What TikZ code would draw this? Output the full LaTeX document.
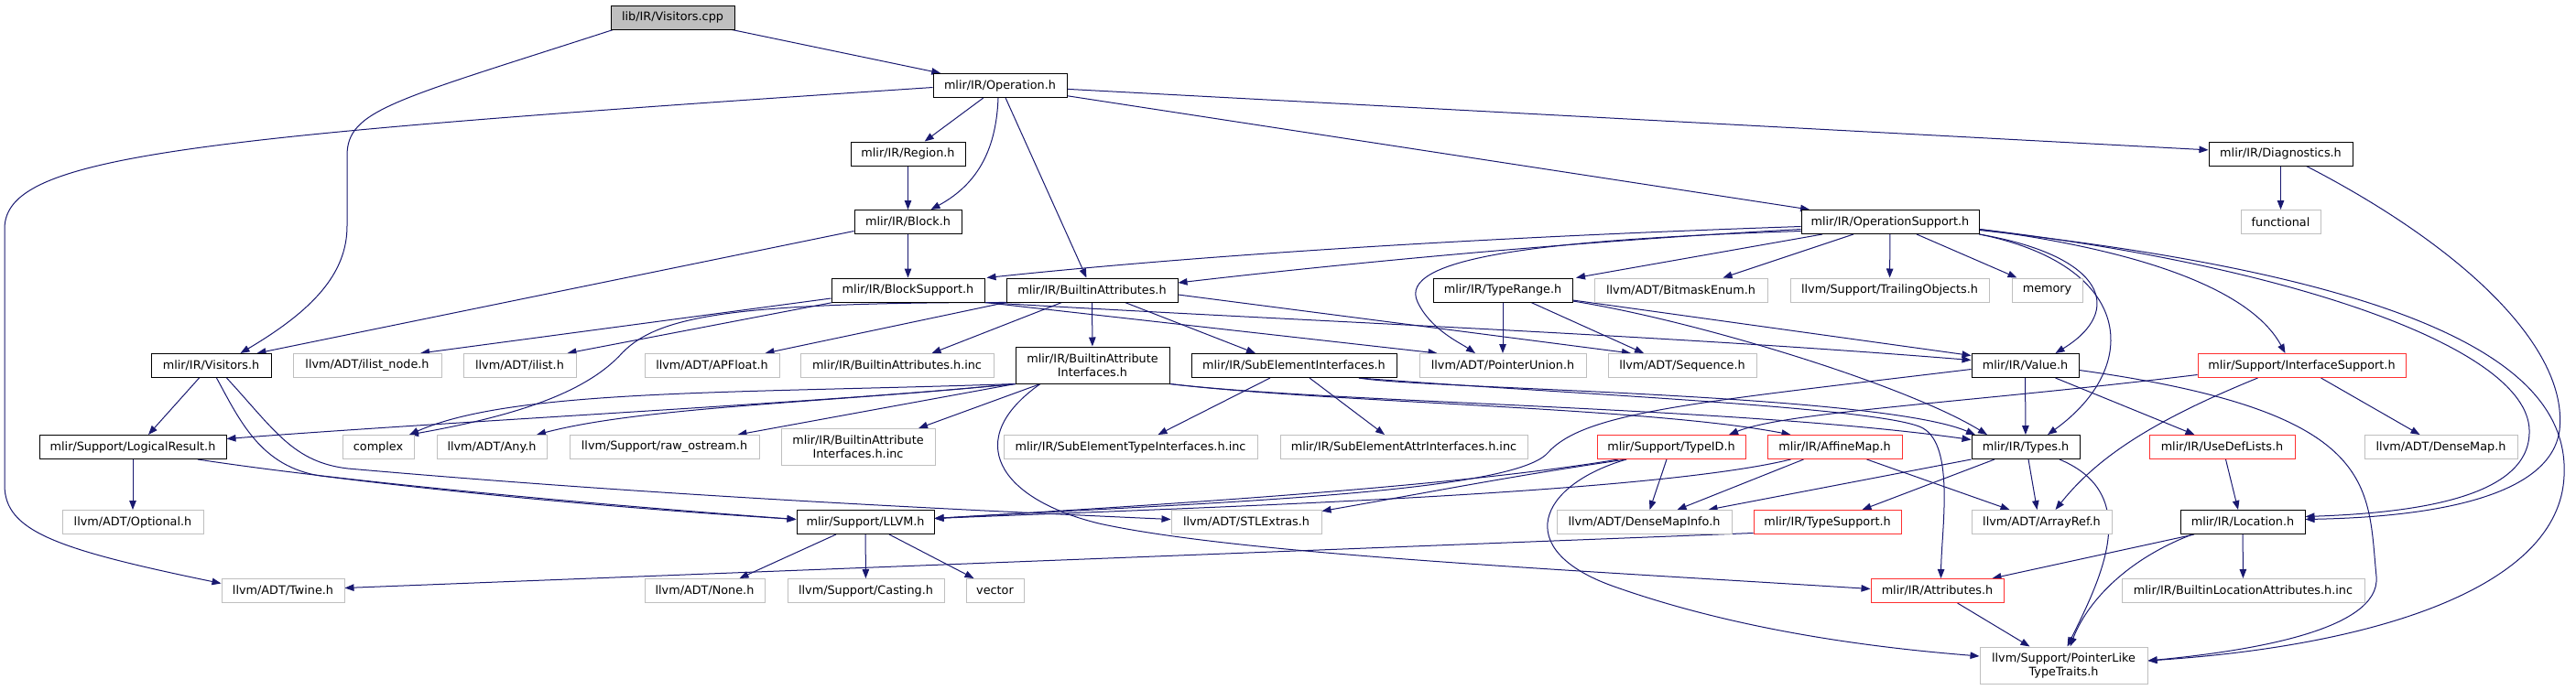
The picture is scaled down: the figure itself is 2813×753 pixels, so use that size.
\documentclass[tikz,border=0pt]{standalone}
\usepackage{fontspec}
\setmainfont{DejaVu Sans}
\usetikzlibrary{arrows.meta}
\pgfdeclarelayer{bg}
\pgfsetlayers{bg,main}
\definecolor{edgeblue}{HTML}{191970}
\definecolor{greybd}{HTML}{BFBFBF}
\definecolor{redbd}{HTML}{FF3030}
\definecolor{rootfill}{HTML}{BFBFBF}
\begin{document}
\begin{tikzpicture}[x=1pt,y=-1pt,
  nd/.style={rectangle, inner sep=0pt, line width=1pt, fill=white, align=center, font=\fontsize{12.8}{15}\selectfont, minimum height=26pt},
  doc/.style={nd, draw=black},
  ext/.style={nd, draw=greybd},
  trunc/.style={nd, draw=redbd},
  root/.style={nd, draw=black, fill=rootfill},
  edg/.style={draw=edgeblue, line width=1pt, -{Triangle[length=10pt,width=7.5pt]}}]
\useasboundingbox (0,0) rectangle (2813,753);
% row 0-4
\node[root, minimum width=135pt] (vcpp) at (734.5,19) {lib/IR/Visitors.cpp};
\node[doc, minimum width=146pt] (op) at (1092,93.5) {mlir/IR/Operation.h};
\node[doc, minimum width=125pt] (region) at (991.5,168) {mlir/IR/Region.h};
\node[doc, minimum width=157pt] (diag) at (2490.5,168) {mlir/IR/Diagnostics.h};
\node[doc, minimum width=117pt] (block) at (991.5,242.5) {mlir/IR/Block.h};
\node[doc, minimum width=194pt] (opsup) at (2064,242.5) {mlir/IR/OperationSupport.h};
\node[ext, minimum width=87pt] (functional) at (2490.5,242.5) {functional};
\node[doc, minimum width=167pt] (blocksup) at (991.5,317) {mlir/IR/BlockSupport.h};
\node[doc, minimum width=187pt] (battr) at (1192.5,317) {mlir/IR/BuiltinAttributes.h};
\node[doc, minimum width=152pt] (typerange) at (1641,317) {mlir/IR/TypeRange.h};
\node[ext, minimum width=189pt] (bitmask) at (1835.5,317) {llvm/ADT/BitmaskEnum.h};
\node[ext, minimum width=217pt] (trailing) at (2063.5,317) {llvm/Support/TrailingObjects.h};
\node[ext, minimum width=77pt] (memory) at (2235.5,317) {memory};
% row 5
\node[doc, minimum width=131pt] (visitorsh) at (230.5,399.5) {mlir/IR/Visitors.h};
\node[ext, minimum width=162pt] (ilistnode) at (401,399.5) {llvm/ADT/ilist\_node.h};
\node[ext, minimum width=123pt] (ilist) at (567.5,399.5) {llvm/ADT/ilist.h};
\node[ext, minimum width=147pt] (apfloat) at (777.5,399.5) {llvm/ADT/APFloat.h};
\node[ext, minimum width=211pt] (battrinc) at (979.5,399.5) {mlir/IR/BuiltinAttributes.h.inc};
\node[doc, minimum width=168pt, minimum height=40pt] (bai) at (1193,399) {mlir/IR/BuiltinAttribute\\Interfaces.h};
\node[doc, minimum width=224pt] (subel) at (1413,399.5) {mlir/IR/SubElementInterfaces.h};
\node[ext, minimum width=182pt] (punion) at (1641,399.5) {llvm/ADT/PointerUnion.h};
\node[ext, minimum width=162pt] (sequence) at (1837,399.5) {llvm/ADT/Sequence.h};
\node[doc, minimum width=117pt] (value) at (2211.5,399.5) {mlir/IR/Value.h};
\node[trunc, minimum width=227pt] (ifsup) at (2513.5,399.5) {mlir/Support/InterfaceSupport.h};
% row 6
\node[doc, minimum width=204pt] (logres) at (145,488.5) {mlir/Support/LogicalResult.h};
\node[ext, minimum width=78pt] (complex) at (413,488.5) {complex};
\node[ext, minimum width=120pt] (any) at (537,488.5) {llvm/ADT/Any.h};
\node[ext, minimum width=207pt] (rawos) at (725.5,488.5) {llvm/Support/raw\_ostream.h};
\node[ext, minimum width=168pt, minimum height=40pt] (baiinc) at (937,488.5) {mlir/IR/BuiltinAttribute\\Interfaces.h.inc};
\node[ext, minimum width=277pt] (setinc) at (1234.5,488.5) {mlir/IR/SubElementTypeInterfaces.h.inc};
\node[ext, minimum width=270pt] (seainc) at (1533,488.5) {mlir/IR/SubElementAttrInterfaces.h.inc};
\node[trunc, minimum width=162pt] (typeid) at (1825,488.5) {mlir/Support/TypeID.h};
\node[trunc, minimum width=147pt] (affine) at (2003.5,488.5) {mlir/IR/AffineMap.h};
\node[doc, minimum width=118pt] (types) at (2212,488.5) {mlir/IR/Types.h};
\node[trunc, minimum width=159pt] (usedef) at (2426.5,488.5) {mlir/IR/UseDefLists.h};
\node[ext, minimum width=167pt] (densemap) at (2665.5,488.5) {llvm/ADT/DenseMap.h};
% row 7
\node[ext, minimum width=154pt] (optional) at (145,570.5) {llvm/ADT/Optional.h};
\node[doc, minimum width=150pt] (llvmh) at (945,570.5) {mlir/Support/LLVM.h};
\node[ext, minimum width=164pt] (stlextras) at (1361,570.5) {llvm/ADT/STLExtras.h};
\node[ext, minimum width=191pt] (densemapinfo) at (1795.5,570.5) {llvm/ADT/DenseMapInfo.h};
\node[trunc, minimum width=161pt] (typesupport) at (1995.5,570.5) {mlir/IR/TypeSupport.h};
\node[ext, minimum width=153pt] (arrayref) at (2229.5,570.5) {llvm/ADT/ArrayRef.h};
\node[doc, minimum width=136pt] (location) at (2449,570.5) {mlir/IR/Location.h};
% row 8
\node[ext, minimum width=134pt] (twine) at (309,645.5) {llvm/ADT/Twine.h};
\node[ext, minimum width=131pt] (none) at (769.5,645.5) {llvm/ADT/None.h};
\node[ext, minimum width=171pt] (casting) at (945.5,645.5) {llvm/Support/Casting.h};
\node[ext, minimum width=63pt] (vector) at (1086.5,645.5) {vector};
\node[trunc, minimum width=145pt] (attributes) at (2115.5,645.5) {mlir/IR/Attributes.h};
\node[ext, minimum width=265pt] (blainc) at (2449.5,645.5) {mlir/IR/BuiltinLocationAttributes.h.inc};
% row 9
\node[ext, minimum width=183pt, minimum height=40pt] (pltt) at (2253.5,727) {llvm/Support/PointerLike\\TypeTraits.h};

\begin{pgfonlayer}{bg}
\draw[edg] (vcpp) -- (op);
\draw[edg] ([xshift=3pt]vcpp.south west) .. controls (430,110) and (379,120) .. (379,170) -- (379,247) .. controls (379,300) and (340,340) .. ([xshift=32pt]visitorsh.north);
\draw[edg] (op) -- (region);
\draw[edg] ([xshift=-2pt]op.south) .. controls (1088,160) and (1070,200) .. ([xshift=25pt]block.north);
\draw[edg] (op) -- (battr);
\draw[edg] (op) -- (opsup);
\draw[edg] (op) -- (diag);
\draw[edg] ([yshift=-2pt]op.west) .. controls (200,150) and (5,170) .. (5,250) -- (5,530) .. controls (5,580) and (60,600) .. ([yshift=8pt]twine.west);
\draw[edg] (region) -- (block);
\draw[edg] (block) -- (blocksup);
\draw[edg] ([yshift=-10pt]block.west) -- ([xshift=50pt]visitorsh.north);
\draw[edg] ([yshift=-9pt]blocksup.west) -- ([xshift=58pt]ilistnode.north);
\draw[edg] ([xshift=2pt]blocksup.south west) -- ([xshift=52pt]ilist.north);
\draw[edg] (blocksup.south east) -- ([xshift=20pt]punion.north west);
\draw[edg] (blocksup.south east) .. controls (1400,350) and (1800,365) .. ([yshift=6pt]value.west);
\draw[edg] (battr.south west) -- ([xshift=-16pt]apfloat.north east);
\draw[edg] ([xshift=-33pt]battr.south) -- ([xshift=38pt]battrinc.north);
\draw[edg] (battr) -- (bai);
\draw[edg] ([xshift=36pt]battr.south) -- ([xshift=-42pt]subel.north);
\draw[edg] ([yshift=-5pt]battr.east) -- ([xshift=-56pt]sequence.north);
\draw[edg] ([xshift=16pt]battr.south west) .. controls (800,330) and (720,345) .. (680,385) .. controls (640,430) and (560,455) .. ([xshift=34pt]complex.north);
% BuiltinAttributeInterfaces
\draw[edg] (bai.south west) .. controls (900,440) and (500,460) .. ([yshift=9pt]logres.east);
\draw[edg] (bai.south west) .. controls (800,430) and (560,425) .. ([xshift=34pt]complex.north);
\draw[edg] (bai.south west) .. controls (900,440) and (700,445) .. ([xshift=49pt]any.north);
\draw[edg] (bai.south west) -- ([xshift=80pt]rawos.north);
\draw[edg] ([xshift=-57pt]bai.south) -- ([xshift=66pt]baiinc.north);
\draw[edg] (bai.south east) .. controls (1450,440) and (1900,445) .. ([yshift=8pt]types.west);
\draw[edg] (bai.south east) .. controls (1450,440) and (1800,445) .. ([xshift=-48pt]affine.north);
\draw[edg] ([xshift=-57pt]bai.south) .. controls (1050,480) and (1090,545) .. (1200,572) .. controls (1350,605) and (1700,622) .. ([yshift=2pt]attributes.west);
% SubElementInterfaces
\draw[edg] ([xshift=-26pt]subel.south) -- ([xshift=30pt]setinc.north);
\draw[edg] ([xshift=17pt]subel.south) -- ([xshift=-21pt]seainc.north);
\draw[edg] ([xshift=71pt]subel.south) .. controls (1550,425) and (2050,430) .. ([xshift=-55pt]types.north);
\draw[edg] ([xshift=71pt]subel.south) .. controls (1700,430) and (2060,445) .. (2100,468) .. controls (2135,488) and (2120,580) .. ([xshift=4pt]attributes.north);
% TypeRange
\draw[edg] (typerange) -- (punion);
\draw[edg] ([xshift=31pt]typerange.south) -- ([xshift=-42pt]sequence.north);
\draw[edg] ([yshift=-11pt]typerange.east) -- ([yshift=11pt]value.west);
\draw[edg] ([yshift=-12pt]typerange.east) .. controls (1850,350) and (2080,420) .. ([xshift=-42pt]types.north);
% OperationSupport
\draw[edg] ([yshift=-5pt]opsup.west) .. controls (1600,260) and (1300,280) .. ([xshift=2pt]blocksup.north east);
\draw[edg] ([yshift=-8pt]opsup.west) .. controls (1700,265) and (1450,290) .. ([yshift=8pt]battr.east);
\draw[edg] ([xshift=-74pt]opsup.south) -- ([xshift=80pt]typerange.north);
\draw[edg] ([xshift=-40pt]opsup.south) -- ([xshift=46pt]bitmask.north);
\draw[edg] (opsup) -- (trailing);
\draw[edg] ([xshift=29pt]opsup.south) -- ([xshift=-33pt]memory.north);
\draw[edg] ([yshift=-10pt]opsup.west) .. controls (1680,262) and (1525,282) .. (1548,330) .. controls (1562,360) and (1595,375) .. ([xshift=-30pt]punion.north);
\draw[edg] (opsup.south east) .. controls (2300,280) and (2320,340) .. ([xshift=33pt]value.north);
\draw[edg] (opsup.south east) .. controls (2330,290) and (2340,400) .. ([xshift=24pt]types.north);
\draw[edg] ([yshift=-8pt]opsup.east) .. controls (2350,275) and (2460,320) .. ([xshift=-18pt]ifsup.north);
\draw[edg] ([yshift=-8pt]opsup.east) .. controls (2500,290) and (2760,380) .. (2762,470) .. controls (2764,540) and (2650,560) .. ([yshift=6pt]location.east);
\draw[edg] ([yshift=-9pt]opsup.east) .. controls (2700,310) and (2805,420) .. (2800,520) .. controls (2795,640) and (2600,705) .. ([yshift=5pt]pltt.east);
% Diagnostics
\draw[edg] ([xshift=28pt]diag.south) .. controls (2690,270) and (2805,380) .. (2795,470) .. controls (2785,545) and (2650,565) .. ([yshift=3pt]location.east);
\draw[edg] (diag) -- (functional);
% Value
\draw[edg] (value) -- (types);
\draw[edg] ([xshift=33pt]value.south) -- ([xshift=-30pt]usedef.north);
\draw[edg] ([yshift=-4pt]value.west) .. controls (1850,440) and (1730,450) .. (1690,495) .. controls (1650,540) and (1300,550) .. ([yshift=4pt]llvmh.east);
\draw[edg] ([yshift=-5pt]value.east) .. controls (2600,450) and (2585,530) .. (2595,630) .. controls (2600,690) and (2450,712) .. ([yshift=5pt]pltt.east);
% InterfaceSupport
\draw[edg] ([yshift=-10pt]ifsup.west) .. controls (2150,440) and (1950,450) .. ([xshift=63pt]typeid.north);
\draw[edg] ([xshift=21pt]ifsup.south) -- ([xshift=-23pt]densemap.north);
\draw[edg] ([xshift=-48pt]ifsup.south) .. controls (2350,460) and (2290,500) .. ([xshift=15pt]arrayref.north);
% Types
\draw[edg] (types.south west) -- ([xshift=70pt]densemapinfo.north);
\draw[edg] ([xshift=3pt]types.south) -- ([xshift=-5pt]arrayref.north);
\draw[edg] ([xshift=-34pt]types.south) -- ([xshift=38pt]typesupport.north);
\draw[edg] ([xshift=37pt]types.south) .. controls (2340,540) and (2295,630) .. ([xshift=4pt]pltt.north);
% AffineMap
\draw[edg] ([xshift=-48pt]affine.south) .. controls (1800,540) and (1300,555) .. ([yshift=4pt]llvmh.east);
\draw[edg] ([xshift=-34pt]affine.south) -- ([xshift=36pt]densemapinfo.north);
\draw[edg] ([xshift=35pt]affine.south) -- ([xshift=-35pt]arrayref.north);
% TypeID
\draw[edg] ([xshift=-58pt]typeid.south) .. controls (1600,530) and (1300,550) .. ([yshift=4pt]llvmh.east);
\draw[edg] ([xshift=-49pt]typeid.south) .. controls (1650,520) and (1550,540) .. ([yshift=12pt]stlextras.east);
\draw[edg] ([xshift=-5pt]typeid.south) -- ([xshift=6pt]densemapinfo.north);
\draw[edg] ([xshift=-49pt]typeid.south) .. controls (1680,530) and (1650,600) .. (1760,640) .. controls (1900,690) and (2050,708) .. ([yshift=10pt]pltt.west);
% UseDefLists, Location, Attributes, TypeSupport
\draw[edg] ([xshift=4pt]usedef.south) -- ([xshift=-5pt]location.north);
\draw[edg] ([xshift=-53pt]location.south) -- ([xshift=60pt]attributes.north);
\draw[edg] (location) -- (blainc);
\draw[edg] ([xshift=-55pt]location.south) .. controls (2320,612) and (2278,660) .. ([xshift=7pt]pltt.north);
\draw[edg] ([xshift=22pt]attributes.south) -- ([xshift=-37pt]pltt.north);
\draw[edg] ([yshift=-12pt]typesupport.west) -- ([yshift=3pt]twine.east);
% Visitors.h, LogicalResult, LLVM
\draw[edg] ([xshift=-13pt]visitorsh.south) -- ([xshift=17pt]logres.north);
\draw[edg] ([xshift=6pt]visitorsh.south) .. controls (262,460) and (285,510) .. (350,520) .. controls (550,545) and (750,560) .. ([yshift=3pt]llvmh.west);
\draw[edg] ([xshift=17pt]visitorsh.south) .. controls (300,470) and (320,505) .. (380,512) .. controls (700,540) and (1000,555) .. ([yshift=3pt]stlextras.west);
\draw[edg] (logres) -- (optional);
\draw[edg] ([xshift=71pt]logres.south) .. controls (400,530) and (700,555) .. ([yshift=3pt]llvmh.west);
\draw[edg] ([xshift=-32pt]llvmh.south) -- ([xshift=38pt]none.north);
\draw[edg] (llvmh) -- (casting);
\draw[edg] ([xshift=26pt]llvmh.south) -- ([xshift=-23pt]vector.north);
\end{pgfonlayer}
\end{tikzpicture}
\end{document}
